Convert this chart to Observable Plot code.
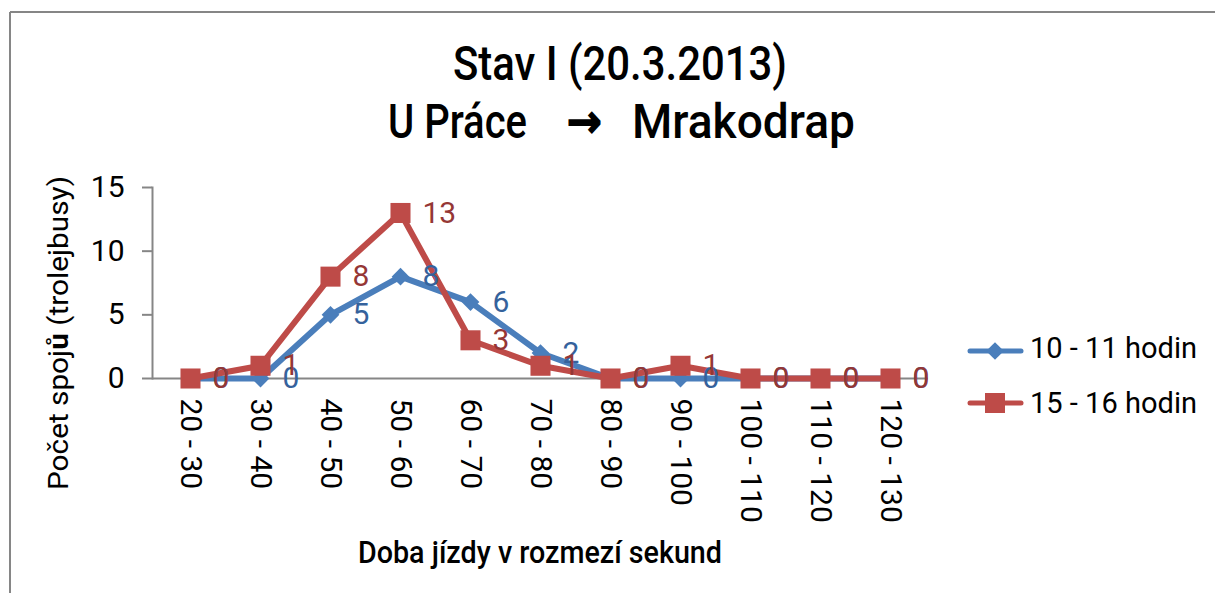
<!DOCTYPE html>
<html>
<head>
<meta charset="utf-8">
<script src="https://cdn.jsdelivr.net/npm/d3@7"></script>
<script src="https://cdn.jsdelivr.net/npm/@observablehq/plot@0.6"></script>
<style>
  html, body { margin: 0; padding: 0; background: #fff; }
  #chart { position: relative; width: 1215px; height: 593px; overflow: hidden; background: #fff; font-family: Roboto, "Open Sans", sans-serif; }
  #plot { position: absolute; left: 0; top: 150px; }
  #overlay { position: absolute; left: 0; top: 0; pointer-events: none; }
</style>
</head>
<body>
<div id="chart">
  <div id="plot"></div>
  <svg id="overlay" width="1215" height="593"></svg>
</div>
<script>
// ---- data ----
const categories = ["20 - 30", "30 - 40", "40 - 50", "50 - 60", "60 - 70", "70 - 80", "80 - 90", "90 - 100", "100 - 110", "110 - 120", "120 - 130"];
const seriesNames = ["10 - 11 hodin", "15 - 16 hodin"];
const values1011 = [0, 0, 5, 8, 6, 2, 0, 0, 0, 0, 0];
const values1516 = [0, 1, 8, 13, 3, 1, 0, 1, 0, 0, 0];
const yTicks = [0, 5, 10, 15];
const titleLine1 = "Stav I (20.3.2013)";
const titleLine2 = ["U Práce", "→", "Mrakodrap"];
const yTitle = ["Počet spoj", "ů", " (trolejbusy)"];
const xTitle = "Doba jízdy v rozmezí sekund";

// ---- styles ----
const blue = "#4A7EBB", red = "#BE4B48";
const blueLabel = "#35629C", redLabel = "#953735";
const axisGray = "#868686";

const rows1 = categories.map((c, i) => ({cat: c, v: values1011[i]}));
const rows2 = categories.map((c, i) => ({cat: c, v: values1516[i]}));

const chart = Plot.plot({
  width: 1215,
  height: 443,
  marginLeft: 152,
  marginRight: 287,
  marginTop: 37,
  marginBottom: 215,
  style: {fontFamily: "Roboto, sans-serif", background: "transparent", overflow: "visible"},
  x: {type: "point", domain: categories, padding: 0.5},
  y: {domain: [0, 15]},
  marks: [
    Plot.frame({anchor: "left", stroke: axisGray, strokeWidth: 2}),
    Plot.ruleY([0], {stroke: axisGray, strokeWidth: 2}),
    Plot.axisY({ticks: yTicks, tickSize: 10, tickPadding: 18, fontSize: 30, stroke: axisGray, strokeWidth: 2, fill: "#000", label: null}),
    Plot.axisX({tickRotate: 90, tickSize: 0, tickPadding: 20, fontSize: 30, fill: "#000", label: null}),
    Plot.line(rows1, {x: "cat", y: "v", stroke: blue, strokeWidth: 6, strokeLinejoin: "round", strokeLinecap: "round"}),
    Plot.dot(rows1, {x: "cat", y: "v", symbol: "diamond2", r: 8, fill: blue, stroke: "none"}),
    Plot.line(rows2, {x: "cat", y: "v", stroke: red, strokeWidth: 6, strokeLinejoin: "round", strokeLinecap: "round"}),
    Plot.dot(rows2, {x: "cat", y: "v", symbol: "square", r: 11.3, fill: red, stroke: "none"}),
    Plot.text(rows1, {x: "cat", y: "v", text: d => String(d.v), dx: 22, textAnchor: "start", lineAnchor: "middle", fontSize: 30, fill: blueLabel}),
    Plot.text(rows2, {x: "cat", y: "v", text: d => String(d.v), dx: 22, textAnchor: "start", lineAnchor: "middle", fontSize: 30, fill: redLabel})
  ]
});
document.getElementById("plot").appendChild(chart);

// ---- overlay: border, titles, axis titles, legend ----
const svg = d3.select("#overlay");
svg.append("line").attr("x1", 10).attr("y1", 12).attr("x2", 1215).attr("y2", 12).attr("stroke", axisGray).attr("stroke-width", 2);
svg.append("line").attr("x1", 10).attr("y1", 12).attr("x2", 10).attr("y2", 593).attr("stroke", axisGray).attr("stroke-width", 2);

function fitText(sel, w) { sel.attr("textLength", w).attr("lengthAdjust", "spacingAndGlyphs"); return sel; }

const tf = "Roboto, sans-serif";
fitText(svg.append("text").attr("x", 453).attr("y", 80).attr("font-family", tf).attr("font-size", 49).attr("font-weight", 500).text(titleLine1), 334);
fitText(svg.append("text").attr("x", 388).attr("y", 138).attr("font-family", tf).attr("font-size", 49).attr("font-weight", 500).text(titleLine2[0]), 139);
fitText(svg.append("text").attr("x", 567).attr("y", 137).attr("font-family", "DejaVu Sans, sans-serif").attr("font-size", 46).attr("font-weight", 700)
  .attr("stroke", "#000").attr("stroke-width", 1.5).text(titleLine2[1]), 35);
fitText(svg.append("text").attr("x", 632).attr("y", 138).attr("font-family", tf).attr("font-size", 49).attr("font-weight", 500).text(titleLine2[2]), 223);

const yt = svg.append("text").attr("transform", "translate(68,333) rotate(-90)").attr("text-anchor", "middle")
  .attr("font-family", tf).attr("font-size", 28).attr("font-weight", 400);
yt.append("tspan").text(yTitle[0]);
yt.append("tspan").attr("font-weight", 700).text(yTitle[1]);
yt.append("tspan").text(yTitle[2]);
fitText(yt, 314);

fitText(svg.append("text").attr("x", 358).attr("y", 563).attr("font-family", tf).attr("font-size", 32).attr("font-weight", 500).text(xTitle), 364);

// legend
const legendItems = [
  {name: seriesNames[0], color: blue, sym: "diamond", cy: 351, base: 358},
  {name: seriesNames[1], color: red, sym: "square", cy: 403, base: 413}
];
legendItems.forEach(it => {
  svg.append("line").attr("x1", 970).attr("x2", 1021).attr("y1", it.cy).attr("y2", it.cy)
    .attr("stroke", it.color).attr("stroke-width", 5).attr("stroke-linecap", "round");
  if (it.sym === "diamond") {
    svg.append("path").attr("d", d3.symbol(d3.symbolDiamond2, 200)()).attr("transform", `translate(995,${it.cy})`).attr("fill", it.color);
  } else {
    svg.append("rect").attr("x", 985).attr("y", it.cy - 10).attr("width", 20).attr("height", 20).attr("fill", it.color);
  }
  fitText(svg.append("text").attr("x", 1030).attr("y", it.base).attr("font-family", tf).attr("font-size", 30).attr("fill", "#000").text(it.name), 167);
});
</script>
</body>
</html>
